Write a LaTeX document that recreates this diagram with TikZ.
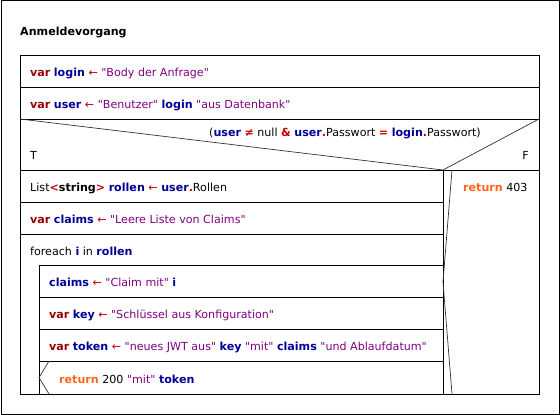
\documentclass[tikz,border=0pt]{standalone}
\usepackage{fontspec}
\setmainfont{DejaVu Sans}[Ligatures=TeXOff]
\definecolor{varred}{RGB}{153,0,0}
\definecolor{oprred}{RGB}{204,0,0}
\definecolor{idblue}{RGB}{0,0,153}
\definecolor{strpurple}{RGB}{128,0,128}
\definecolor{retorange}{RGB}{255,102,25}
\newcommand{\kwvar}{\textcolor{varred}{\textbf{var}}}
\newcommand{\idn}[1]{\textcolor{idblue}{\textbf{#1}}}
\newcommand{\strl}[1]{\textcolor{strpurple}{"#1"}}
\newcommand{\opr}[1]{\textcolor{oprred}{\textbf{#1}}}
\newcommand{\retw}{\textcolor{retorange}{\textbf{return}}}
\newcommand{\asg}{\textcolor{oprred}{←}}
\tikzset{
  txt/.style={anchor=base west, inner sep=0pt, font=\fontsize{11.1}{13}\selectfont},
  ln/.style={line width=0.9pt, black},
  thin/.style={line width=0.7pt, black!80}
}
\begin{document}
\begin{tikzpicture}[x=1pt,y=-1pt]
\useasboundingbox (0,0) rectangle (560,415);
% outer frame
\draw[ln] (1,0.5) rectangle (559,414);
\node[txt, font=\fontsize{11.1}{13}\selectfont\bfseries] (title) at (20,35) {Anmeldevorgang};
% main structure
\draw[ln] (20,55) rectangle (539,394);
\draw[ln] (20,87) -- (539,87);
\draw[ln] (20,119) -- (539,119);
\draw[ln] (20,170) -- (539,170);
\draw[thin] (20,119) -- (443,170) -- (539,119);
\draw[ln] (443,170) -- (443,394);
\draw[ln] (20,202) -- (443,202);
\draw[ln] (20,234) -- (443,234);
% foreach body
\draw[ln] (39,265) rectangle (443,394);
\draw[ln] (39,297) -- (443,297);
\draw[ln] (39,329) -- (443,329);
\draw[ln] (39,361) -- (443,361);
\draw[thin] (49,361) -- (39,377.5) -- (49,394);
\draw[thin] (452,170) -- (443,282) -- (452,394);
% texts
\node[txt] (r1) at (30,76) {\kwvar\ \idn{login} \asg\ \strl{Body der Anfrage}};
\node[txt] (r2) at (30,108) {\kwvar\ \idn{user} \asg\ \strl{Benutzer} \idn{login} \strl{aus Datenbank}};
\node[txt, anchor=base] (cond) at (345,136.5) {(\idn{user} \opr{≠} null \opr{\&} \idn{user}\opr{.}Passwort \opr{=} \idn{login}\opr{.}Passwort)};
\node[txt] (t) at (30,159) {T};
\node[txt, anchor=base east] (f) at (529,159) {F};
\node[txt] (t1) at (30,191) {List\opr{<}\textbf{string}\opr{>} \idn{rollen} \asg\ \idn{user}\opr{.}Rollen};
\node[txt] (t2) at (30,223) {\kwvar\ \idn{claims} \asg\ \strl{Leere Liste von Claims}};
\node[txt] (fe) at (30,255.5) {foreach \idn{i} in \idn{rollen}};
\node[txt] (i1) at (49,286) {\idn{claims} \asg\ \strl{Claim mit} \idn{i}};
\node[txt] (i2) at (49,318) {\kwvar\ \idn{key} \asg\ \strl{Schlüssel aus Konfiguration}};
\node[txt] (i3) at (49,350) {\kwvar\ \idn{token} \asg\ \strl{neues JWT aus} \idn{key} \strl{mit} \idn{claims} \strl{und Ablaufdatum}};
\node[txt] (i4) at (59,383) {\retw\ 200 \strl{mit} \idn{token}};
\node[txt] (f1) at (463,191) {\retw\ 403};
\end{tikzpicture}
\end{document}
